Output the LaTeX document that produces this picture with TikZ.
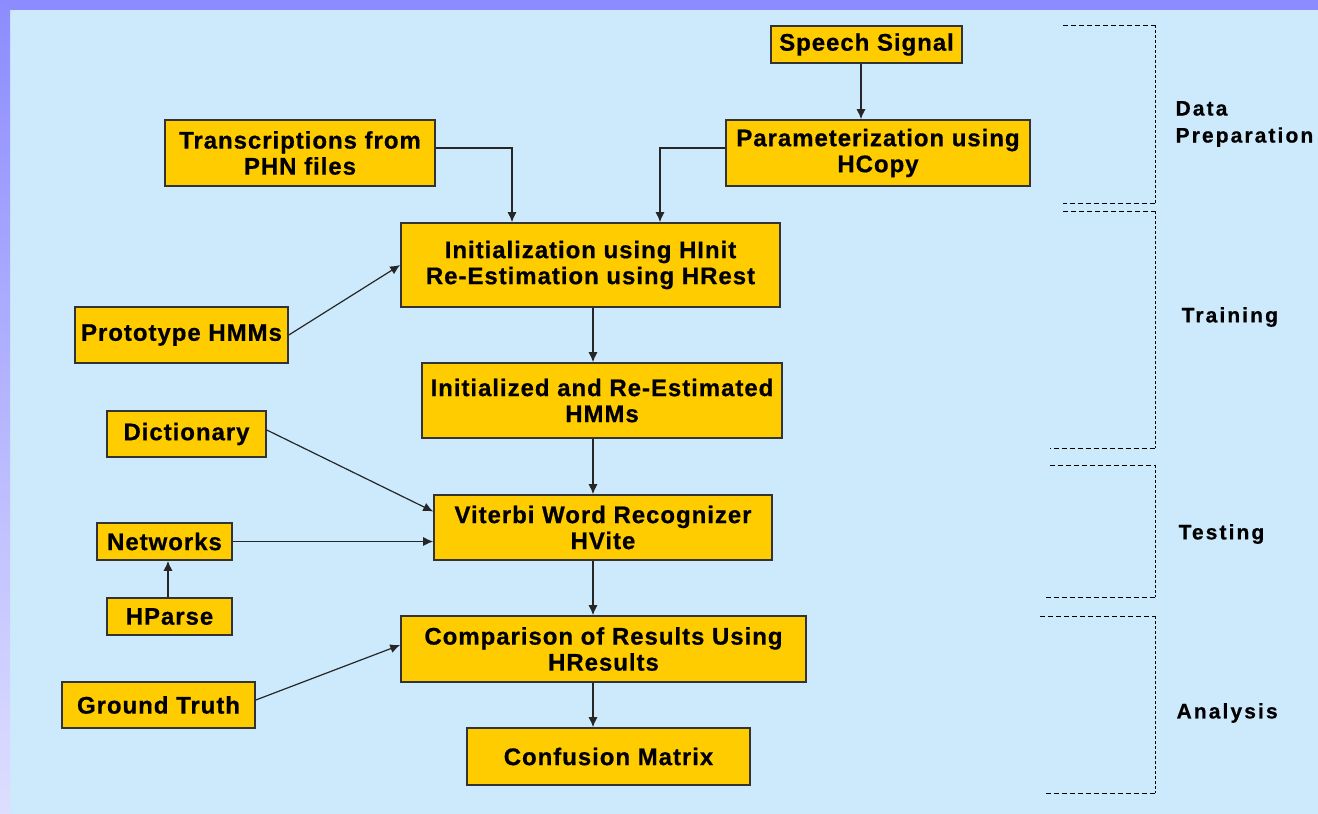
\documentclass[tikz,border=0pt]{standalone}
\usepackage{fontspec}
\newfontfamily\hmmfont[LetterSpace=4,BoldFeatures={FakeBold=0.6}]{Liberation Sans}
\newfontfamily\phasefont[LetterSpace=10,BoldFeatures={FakeBold=0.6}]{Liberation Sans}
\usetikzlibrary{arrows.meta}
\definecolor{bgblue}{RGB}{204,234,251}
\definecolor{bandpurple}{RGB}{140,140,255}
\definecolor{bandlight}{RGB}{222,222,255}
\definecolor{boxyellow}{RGB}{255,204,0}
\definecolor{edgegray}{RGB}{51,51,51}

\begin{document}
\begin{tikzpicture}[x=1pt,y=-1pt]
				\tikzstyle{every path}=[line width=1.2pt]

				\tikzstyle{hmmbox}=[draw=edgegray,fill=boxyellow,line width=1.6pt,inner sep=0pt,align=center,font=\hmmfont\bfseries\fontsize{24}{26}\selectfont]
				\tikzstyle{phase}=[anchor=west,inner sep=0pt,align=left,font=\phasefont\bfseries\fontsize{21}{27}\selectfont]
				\tikzstyle{l} = [draw=black!85, -{Latex[length=10pt,width=9pt]}]
				\tikzstyle{br} = [draw=black, line width=1pt, dash pattern=on 5pt off 3pt]
				\tikzstyle{brv} = [draw=black, line width=1pt, dash pattern=on 3pt off 2pt]
				\useasboundingbox (0,0) rectangle (1318,814);
				%% Background
				\fill [bgblue] (0,0) rectangle (1318,814);
				\fill [bandpurple] (0,0) rectangle (1318,10);
				\shade [top color=bandpurple,bottom color=bandlight] (0,0) rectangle (10,814);

				%% Boxes
				\node [hmmbox,minimum width=191pt,minimum height=37pt] (speech) at (866.5,44.5) {Speech Signal};
				\node [hmmbox,minimum width=270pt,minimum height=66pt] (trans) at (300,153) {Transcriptions from\\PHN files};
				\node [hmmbox,minimum width=304pt,minimum height=66pt] (param) at (878,153) {Parameterization using\\HCopy};
				\node [hmmbox,minimum width=379pt,minimum height=84pt] (init) at (590.5,265) {Initialization using HInit\\Re-Estimation using HRest};
				\node [hmmbox,minimum width=213pt,minimum height=56pt] (proto) at (181.5,335) {Prototype HMMs};
				\node [hmmbox,minimum width=360pt,minimum height=75pt] (ired) at (602,400.5) {Initialized and Re-Estimated\\HMMs};
				\node [hmmbox,minimum width=159pt,minimum height=46pt] (dict) at (186.5,434) {Dictionary};
				\node [hmmbox,minimum width=338pt,minimum height=65pt] (viterbi) at (603,527.5) {Viterbi Word Recognizer\\HVite};
				\node [hmmbox,minimum width=135pt,minimum height=37pt] (net) at (164.5,541.5) {Networks};
				\node [hmmbox,minimum width=125pt,minimum height=37pt] (hparse) at (169.5,616.5) {HParse};
				\node [hmmbox,minimum width=405pt,minimum height=66pt] (comp) at (603.5,649) {Comparison of Results Using\\HResults};
				\node [hmmbox,minimum width=193pt,minimum height=46pt] (ground) at (158.5,705) {Ground Truth};
				\node [hmmbox,minimum width=283pt,minimum height=57pt] (conf) at (608.5,756.5) {Confusion Matrix};
				\coordinate (axis) at (593,0);

				%% Connectors
				\draw [l] ([xshift=-5.5pt]speech.south) -- ([xshift=-5.5pt]speech.south |- param.north);
				\draw [l] ([yshift=5pt]trans.east) -| ([xshift=-78.5pt]init.north);
				\draw [l] ([yshift=5pt]param.west) -| ([xshift=69.5pt]init.north);
				\draw [l] (proto.east) -- (init.west);
				\draw [l] (init.south -| axis) -- (ired.north -| axis);
				\draw [l] (ired.south -| axis) -- (viterbi.north -| axis);
				\draw [l] ([yshift=4pt]dict.east) -- ([yshift=16pt]viterbi.west);
				\draw [l] (net.east) -- (net.east -| viterbi.west);
				\draw [l] ([xshift=-1.5pt]hparse.north) -- ([xshift=-1.5pt]hparse.north |- net.south);
				\draw [l] (viterbi.south -| axis) -- (comp.north -| axis);
				\draw [l] ([yshift=5pt]ground.east) -- ([yshift=4pt]comp.west);
				\draw [l] (comp.south -| axis) -- (conf.north -| axis);

				%% Phase brackets
				\draw [br] (1063,25) -- (1155,25) (1155,203) -- (1063,203);
				\draw [brv] (1155,25) -- (1155,203);
				\draw [br] (1063,211) -- (1155,211) (1155,448) -- (1050,448);
				\draw [brv] (1155,211) -- (1155,448);
				\draw [br] (1050,465) -- (1155,465) (1155,597) -- (1046,597);
				\draw [brv] (1155,465) -- (1155,597);
				\draw [br] (1040,616) -- (1155,616) (1155,793) -- (1046,793);
				\draw [brv] (1155,616) -- (1155,793);
				\node [phase] (prep) at (1175,124) {Data\\Preparation};
				\node [phase] (train) at (1181,317) {Training};
				\node [phase] (test) at (1178,534) {Testing};
				\node [phase] (anal) at (1176,713) {Analysis};
\end{tikzpicture}
\end{document}
